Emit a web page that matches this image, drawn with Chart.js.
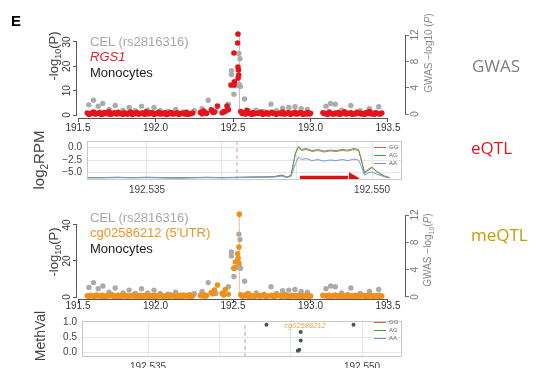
<!DOCTYPE html>
<html><head><meta charset="utf-8">
<script src="https://cdn.jsdelivr.net/npm/chart.js@4"></script>
<style>
body{margin:0;background:#fff;width:540px;height:368px;overflow:hidden;position:relative;font-family:"Liberation Sans",Arial,sans-serif}
canvas{position:absolute;left:0}
.t{position:absolute;white-space:nowrap;line-height:1}
.l{transform:translateY(-50%)}
.rot{transform:translate(-50%,-50%) rotate(-90deg)}
.big{font-family:"Open Sans",sans-serif;font-size:17px}
.lg{position:absolute;height:0;border-top:1.5px solid}
.lt{position:absolute;font-size:6px;color:#666;transform:translateY(-50%);line-height:1}
</style></head><body>
<canvas id="c1" width="540" height="140" style="top:0"></canvas>
<canvas id="c2" width="540" height="70" style="top:130px"></canvas>
<canvas id="c3" width="540" height="130" style="top:190px"></canvas>
<canvas id="c4" width="540" height="58" style="top:310px"></canvas>

<div class="t" style="left:11px;top:13px;font-weight:bold;font-size:15px">E</div>

<div class="t l" style="left:90px;top:41px;font-size:13px;color:#a8a8a8">CEL (rs2816316)</div>
<div class="t l" style="left:90px;top:56px;font-size:13px;color:#e5202a;font-style:italic">RGS1</div>
<div class="t l" style="left:90px;top:72px;font-size:13px;color:#222">Monocytes</div>
<div class="t rot" style="left:55px;top:56px;font-size:13px;color:#444">-log<sub style="font-size:9px">10</sub>(P)</div>
<div class="t rot" style="left:429px;top:53px;font-size:10px;color:#888">GWAS −log10 (<i>P</i>)</div>

<div class="t rot" style="left:40px;top:160px;font-size:15px;color:#444">log<sub style="font-size:10px">2</sub>RPM</div>

<div class="t l" style="left:90px;top:217px;font-size:13px;color:#a8a8a8">CEL (rs2816316)</div>
<div class="t l" style="left:90px;top:232px;font-size:13px;color:#f0922a">cg02586212 (5'UTR)</div>
<div class="t l" style="left:90px;top:248px;font-size:13px;color:#222">Monocytes</div>
<div class="t rot" style="left:55px;top:252px;font-size:13px;color:#444">-log<sub style="font-size:9px">10</sub>(P)</div>
<div class="t rot" style="left:429px;top:250px;font-size:10px;color:#888">GWAS −log<sub style="font-size:7px">10</sub>(<i>P</i>)</div>

<div class="t rot" style="left:40px;top:336px;font-size:14px;color:#444">MethVal</div>
<div class="t" style="left:305px;top:326px;font-size:7.5px;color:#f0a040;font-style:italic;transform:translate(-50%,-50%)">cg02586212</div>

<div class="t l big" style="left:472px;top:65px;color:#7f7f7f">GWAS</div>
<div class="t l big" style="left:471px;top:147px;color:#e8141c">eQTL</div>
<div class="t l big" style="left:471px;top:234px;color:#c89b00">meQTL</div>

<div class="lg" style="left:374px;top:147px;width:12px;border-color:#e06060"></div><div class="lt" style="left:389px;top:147px">GG</div>
<div class="lg" style="left:374px;top:155px;width:12px;border-color:#40a040"></div><div class="lt" style="left:389px;top:155px">AG</div>
<div class="lg" style="left:374px;top:163px;width:12px;border-color:#7090d0"></div><div class="lt" style="left:389px;top:163px">AA</div>

<div class="lg" style="left:374px;top:322px;width:12px;border-color:#e06060"></div><div class="lt" style="left:389px;top:322px">GG</div>
<div class="lg" style="left:374px;top:330px;width:12px;border-color:#40a040"></div><div class="lt" style="left:389px;top:330px">AG</div>
<div class="lg" style="left:374px;top:338px;width:12px;border-color:#7090d0"></div><div class="lt" style="left:389px;top:338px">AA</div>

<script>
// ---------- data ----------
const xTicksMb = [191.5, 192.0, 192.5, 193.0, 193.5];
const xTickLabels = ['191.5', '192.0', '192.5', '193.0', '193.5'];
const eqtlPTicks = [0, 10, 20, 30];
const meqtlPTicks = [0, 20, 40];
const gwasTicks = [0, 4, 8, 12];
const leadSnpMb = 192.541;
const methSnpMb = 192.5418;

const snpPos = [
191.56,191.58,191.60,191.62,191.64,191.66,191.68,191.70,191.72,191.74,
191.76,191.78,191.80,191.82,191.84,191.86,191.88,191.90,191.92,191.94,
191.96,191.98,192.00,192.02,192.04,192.06,192.08,192.10,192.12,192.14,
192.16,192.18,192.20,192.22,192.24,192.29,192.31,192.33,192.36,192.38,
192.40,192.43,192.45,192.47,192.55,192.57,192.59,192.61,192.63,192.66,
192.68,192.70,192.72,192.75,192.77,192.80,192.82,192.84,192.86,192.88,
192.90,192.92,192.94,192.96,192.98,193.00,193.08,193.10,193.12,193.14,
193.16,193.18,193.20,193.22,193.24,193.26,193.28,193.30,193.32,193.34,
193.36,193.38,193.40,193.42,193.44,193.46];
const rgs1LogP = [
0.8,0.5,1.2,0.6,1.0,0.4,0.9,1.3,0.5,0.8,
1.1,0.6,0.9,0.4,1.2,0.7,1.0,0.5,0.8,1.3,
0.6,0.9,0.5,1.1,0.7,0.9,0.4,1.0,0.6,0.9,
0.5,0.7,1.1,0.5,0.8,1.0,1.6,0.7,2.1,1.2,
3.7,0.9,1.5,2.2,1.4,0.8,1.9,0.6,1.0,0.7,
1.2,0.5,0.9,1.1,0.6,0.8,1.2,0.5,0.9,0.7,
1.1,0.6,0.9,0.5,1.0,0.7,0.9,0.6,1.2,0.5,
0.8,1.0,0.6,1.3,0.7,0.9,0.5,1.1,0.8,0.6,
1.0,1.4,0.7,0.9,0.5,0.8];
const cgLogP = [
0.7,1.0,0.5,1.1,0.6,0.9,0.4,0.8,1.2,0.6,
0.9,0.5,1.1,0.7,0.6,1.0,0.5,0.9,0.7,1.1,
0.5,0.8,1.0,0.6,0.9,0.4,0.8,1.1,0.6,0.7,
1.0,0.6,0.8,1.2,0.7,0.9,1.4,0.8,2.5,3.9,
6.7,2.0,4.2,1.5,1.2,0.7,1.6,0.9,0.6,1.0,
0.8,1.1,0.6,0.9,0.5,1.0,0.7,1.2,0.6,0.9,
0.7,1.0,0.5,0.8,1.1,0.6,0.9,0.7,1.0,0.6,
1.1,0.5,0.9,0.7,1.2,0.6,0.8,1.0,0.5,0.9,
0.7,1.1,0.6,0.8,1.0,0.6];
const snpPos2 = [
191.57,191.59,191.61,191.63,191.65,191.67,191.69,191.71,191.73,191.75,
191.77,191.79,191.81,191.83,191.85,191.87,191.89,191.91,191.93,191.95,
191.97,191.99,192.01,192.03,192.05,192.07,192.09,192.11,192.13,192.15,
192.17,192.19,192.21,192.23,192.30,192.32,192.37,192.44,192.56,192.58,
192.60,192.62,192.64,192.67,192.69,192.71,192.73,192.76,192.78,192.81,
192.83,192.85,192.87,192.89,192.91,192.93,192.95,192.97,192.99,193.09,
193.11,193.13,193.15,193.17,193.19,193.21,193.23,193.25,193.27,193.29,
193.31,193.33,193.35,193.37,193.39,193.41,193.43,193.45];
const rgs1LogP2 = [
0.3,0.9,0.4,0.7,0.2,1.0,0.5,0.3,0.8,0.4,
0.6,0.3,0.5,0.9,0.2,0.6,0.4,0.8,0.3,0.5,
0.9,0.3,0.7,0.4,0.5,0.2,0.8,0.4,0.6,0.3,
0.7,0.4,0.3,0.6,0.5,0.9,1.1,1.3,0.6,0.4,
0.7,0.3,0.5,0.8,0.3,0.6,0.4,0.7,0.3,0.5,
0.4,0.8,0.3,0.6,0.4,0.9,0.3,0.5,0.4,0.6,
0.3,0.7,0.4,0.5,0.3,0.8,0.4,0.6,0.3,0.5,
0.7,0.4,0.3,0.6,0.5,0.3,0.7,0.4];
const cgLogP2 = [
0.4,0.7,0.3,0.8,0.5,0.3,0.6,0.9,0.4,0.5,
0.3,0.7,0.4,0.6,0.8,0.3,0.5,0.4,0.7,0.3,
0.6,0.4,0.5,0.8,0.3,0.6,0.4,0.7,0.3,0.5,
0.4,0.8,0.5,0.3,0.7,0.5,1.8,1.2,0.5,0.8,
0.4,0.6,0.3,0.5,0.7,0.4,0.6,0.3,0.8,0.4,
0.6,0.3,0.5,0.7,0.4,0.5,0.3,0.6,0.4,0.8,
0.5,0.3,0.6,0.4,0.7,0.3,0.5,0.4,0.6,0.3,
0.5,0.7,0.4,0.3,0.6,0.4,0.5,0.3];
const rgs1PeakPos = [192.461,192.487,192.506,192.509,192.533,192.537,192.535,192.532,192.506,192.530,192.532];
const rgs1PeakLogP = [3.7,12.3,12.3,13.6,15.2,16.4,18.5,19.7,25.5,29.6,33.3];
const cgPeakPos = [192.505,192.510,192.515,192.533,192.538,192.530,192.538,192.541];
const cgPeakLogP = [16.0,16.2,19.4,21.5,18.9,24.0,27.8,46.0];

const celPos = [
191.57,191.60,191.63,191.66,191.70,191.74,191.79,191.83,191.87,191.91,
191.95,191.99,192.03,192.08,192.13,192.18,192.25,192.30,192.34,192.39,
192.44,192.47,192.49,192.49,192.506,192.52,192.538,192.540,192.545,192.548,192.575,192.60,192.65,192.70,
192.745,192.78,192.82,192.86,192.90,192.94,192.98,193.10,193.13,193.16,
193.20,193.26,193.32,193.38,193.44];
const celGwasLogP = [
1.4,2.1,1.2,1.6,0.7,1.3,0.6,1.0,0.5,1.2,
0.6,1.0,0.5,0.4,0.7,0.3,0.5,0.8,2.1,0.5,
0.4,1.5,6.0,6.6,3.0,4.3,9.2,4.5,8.4,4.2,2.3,0.5,0.6,0.4,
1.5,0.5,0.9,1.0,1.1,0.8,0.7,1.2,1.6,1.5,
0.6,1.3,0.5,0.8,1.1];

// eQTL read coverage by genotype
const rnaPos = [192.5310,192.5320,192.5330,192.5340,192.5350,192.5360,192.5370,192.5380,192.5390,192.5400,
192.5410,192.5420,192.5430,192.5435,192.5440,192.5443,192.5446,192.5449,192.5451,192.5453,
192.5456,192.5460,192.5464,192.5468,192.5472,192.5476,192.5480,192.5484,192.5488,192.5491,
192.5493,192.5495,192.5498,192.5500,192.5503,192.5506,192.5509,192.5512];
const ggRPM = [-6.0,-6.0,-5.95,-6.0,-5.95,-6.0,-6.05,-6.0,-5.95,-6.0,
-5.95,-5.9,-5.85,-5.8,-5.5,-5.9,-5.6,-1.2,0.0,-0.6,
-0.4,-0.8,-0.6,-0.9,-0.7,-0.8,-0.6,-0.7,-0.4,-0.6,
-2.7,-5.0,-4.2,-3.9,-4.7,-5.3,-5.8,-6.0];
const agRPM = [-6.0,-6.0,-5.95,-6.0,-5.95,-6.0,-6.05,-6.0,-5.95,-6.0,
-5.95,-5.9,-5.85,-5.8,-5.5,-5.9,-5.6,-1.0,0.2,-0.4,
-0.2,-0.6,-0.4,-0.7,-0.5,-0.6,-0.4,-0.5,-0.2,-0.4,
-2.5,-5.2,-4.4,-4.0,-4.8,-5.4,-5.8,-6.0];
const aaRPM = [-6.05,-6.05,-6.0,-6.05,-6.0,-6.05,-6.1,-6.05,-6.0,-6.05,
-6.0,-5.95,-5.9,-5.9,-5.7,-6.0,-5.8,-3.2,-1.9,-2.4,
-2.2,-2.6,-2.4,-2.7,-2.5,-2.6,-2.4,-2.6,-2.3,-2.5,
-3.8,-5.5,-5.0,-4.9,-5.3,-5.6,-5.9,-6.05];
const geneArrowPos = [192.5452, 192.5484];
const geneArrowHead = 192.5487;
const geneArrowLevel = -6.15;
const zoomXTicks = [192.535, 192.540, 192.545, 192.550];
const zoomXLabels = ['192.535', '', '', '192.550'];
const rpmTicks = [0, -2.5, -5];
const rpmLabels = ['0.0', '\u22122.5', '\u22125.0'];

// methylation
const methPos = [192.5433, 192.5494, 192.5457, 192.5457, 192.5456, 192.5455];
const methVal = [0.91, 0.91, 0.67, 0.39, 0.09, 0.05];
const methTicks = [0, 0.5, 1.0];
const methLabels = ['0.0', '0.5', '1.0'];

// ---------- helpers ----------
const pts = (xs, ys) => xs.map((x, i) => ({x, y: ys[i]}));
const fixTicks = (vals) => (s) => { s.ticks = vals.map(v => ({value: v})); };

const rAxisLine = {
  id: 'rAxisLine',
  afterDraw(chart) {
    const ctx = chart.ctx, a = chart.chartArea;
    ctx.save(); ctx.strokeStyle = '#555'; ctx.lineWidth = 1;
    for (const id of ['x', 'y', 'y2']) {
      const s = chart.scales[id]; if (!s) continue;
      const t = s.ticks;
      const p0 = s.getPixelForValue(t[0].value), p1 = s.getPixelForValue(t[t.length - 1].value);
      ctx.beginPath();
      if (id === 'x') { ctx.moveTo(p0, a.bottom + 0.5); ctx.lineTo(p1, a.bottom + 0.5); }
      else if (id === 'y') { ctx.moveTo(a.left - 0.5, p0); ctx.lineTo(a.left - 0.5, p1); }
      else { ctx.moveTo(a.right + 0.5, p0); ctx.lineTo(a.right + 0.5, p1); }
      ctx.stroke();
    }
    ctx.restore();
  }
};
const frame = {
  id: 'frame',
  afterDraw(chart) {
    const a = chart.chartArea, ctx = chart.ctx;
    ctx.save(); ctx.strokeStyle = '#c8c8c8'; ctx.lineWidth = 1;
    ctx.strokeRect(a.left + 0.5, a.top + 0.5, a.width - 1, a.height - 1);
    ctx.restore();
  }
};
Chart.defaults.font.family = '"Liberation Sans", Arial, sans-serif';
Chart.defaults.animation = false;

function manhattan(id, cfg) {
  return new Chart(document.getElementById(id), {
    type: 'scatter',
    data: {datasets: [
      {data: pts(snpPos, cfg.bgP).concat(pts(snpPos2, cfg.bgP2), pts(cfg.peakPos, cfg.peakP)), yAxisID: 'y', backgroundColor: cfg.color,
       borderWidth: 0, pointRadius: 2.8, order: 0, clip: false},
      {data: pts(celPos, celGwasLogP), yAxisID: 'y2', backgroundColor: '#ababab', borderWidth: 0, pointRadius: 2.7, order: 1, clip: false},
      {data: [{x: leadSnpMb, y: 0}, {x: leadSnpMb, y: cfg.lineTop}], yAxisID: 'y', showLine: true, borderColor: cfg.lineColor,
       borderWidth: 1, pointRadius: 0, order: 2}
    ]},
    options: {
      responsive: false, events: [],
      layout: {padding: {left: 55, right: 113, top: cfg.top, bottom: 0}},
      plugins: {legend: {display: false}, tooltip: {enabled: false}},
      scales: {
        x: {type: 'linear', min: 191.4935, max: 193.6097, afterFit: s => { s.height = cfg.xh; },
            afterBuildTicks: fixTicks(xTicksMb),
            ticks: {callback: (v, i) => xTickLabels[i], font: {size: 10}, color: '#333', padding: cfg.xpad, maxRotation: 0, autoSkip: false},
            grid: {drawOnChartArea: false, tickLength: 4, color: '#555'}, border: {display: false}},
        y: {position: 'left', min: cfg.ymin, max: cfg.ymax, afterFit: s => { s.width = 22; },
            afterBuildTicks: fixTicks(cfg.yTicks),
            ticks: {minRotation: 90, maxRotation: 90, crossAlign: 'center', padding: 0, font: {size: 10}, color: '#333'},
            grid: {drawOnChartArea: false, tickLength: 4, color: '#555'}, border: {display: false}},
        y2: {position: 'right', min: cfg.y2min, max: cfg.y2max, afterFit: s => { s.width = 22; },
            afterBuildTicks: fixTicks(gwasTicks),
            ticks: {minRotation: 90, maxRotation: 90, crossAlign: 'center', padding: 1, font: {size: 10}, color: '#777'},
            grid: {drawOnChartArea: false, tickLength: 4, color: '#777'}, border: {display: false}}
      }
    },
    plugins: [rAxisLine]
  });
}

manhattan('c1', {bgP: rgs1LogP, bgP2: rgs1LogP2, peakPos: rgs1PeakPos, peakP: rgs1PeakLogP, color: '#e5141c',
  lineTop: 33, lineColor: '#bbbbbb', top: 32, xh: 22, xpad: 0, ymin: -1.23, ymax: 34.1, yTicks: eqtlPTicks, y2min: -0.6, y2max: 12.46});
manhattan('c3', {bgP: cgLogP, bgP2: cgLogP2, peakPos: cgPeakPos, peakP: cgPeakLogP, color: '#f0901c',
  lineTop: 46, lineColor: '#f5c08a', top: 22, xh: 21, xpad: -3, ymin: -1.1, ymax: 47.2, yTicks: meqtlPTicks, y2min: -0.3, y2max: 12.44});

const zoomGrid = {color: '#e6e6e6', drawTicks: false};
new Chart(document.getElementById('c2'), {
  type: 'scatter',
  data: {datasets: [
    {data: pts(geneArrowPos, [geneArrowLevel, geneArrowLevel]), showLine: true, borderColor: '#e01010', borderWidth: 5, pointRadius: 0, order: 0},
    {data: [{x: geneArrowHead, y: geneArrowLevel}], pointStyle: 'triangle', rotation: 90, pointRadius: 7, backgroundColor: '#e01010', borderWidth: 0, order: 0},
    {data: pts(rnaPos, aaRPM), showLine: true, borderColor: '#7a98d6', borderWidth: 1, pointRadius: 0, order: 1},
    {data: pts(rnaPos, agRPM), showLine: true, borderColor: '#52a552', borderWidth: 1, pointRadius: 0, order: 2},
    {data: pts(rnaPos, ggRPM), showLine: true, borderColor: '#e07070', borderWidth: 1, pointRadius: 0, order: 3},
    {data: [{x: leadSnpMb, y: -6.48}, {x: leadSnpMb, y: 1.3}], showLine: true, borderColor: '#e39a9a', borderWidth: 1, borderDash: [4, 3], pointRadius: 0, order: 4}
  ]},
  options: {
    responsive: false, events: [],
    layout: {padding: {left: 57, right: 138, top: 8, bottom: 0}},
    plugins: {legend: {display: false}, tooltip: {enabled: false}},
    scales: {
      x: {type: 'linear', min: 192.531, max: 192.552, afterFit: s => { s.height = 20; },
          afterBuildTicks: fixTicks(zoomXTicks),
          ticks: {callback: (v, i) => zoomXLabels[i], font: {size: 10}, color: '#444', padding: 4, maxRotation: 0, autoSkip: false},
          grid: zoomGrid, border: {display: false}},
      y: {min: -6.48, max: 1.3, afterFit: s => { s.width = 30; },
          afterBuildTicks: fixTicks(rpmTicks),
          ticks: {callback: (v, i) => rpmLabels[i], font: {size: 10}, color: '#444', padding: 5},
          grid: zoomGrid, border: {display: false}}
    }
  },
  plugins: [frame]
});

new Chart(document.getElementById('c4'), {
  type: 'scatter',
  data: {datasets: [
    {data: pts(methPos, methVal), backgroundColor: '#3f5a4c', borderWidth: 0, pointRadius: 2, order: 0},
    {data: [{x: methSnpMb, y: -0.152}, {x: methSnpMb, y: 1.03}], showLine: true, borderColor: '#aaaaaa', borderWidth: 1, borderDash: [4, 3], pointRadius: 0, order: 1}
  ]},
  options: {
    responsive: false, events: [],
    layout: {padding: {left: 52, right: 138, top: 8, bottom: 0}},
    plugins: {legend: {display: false}, tooltip: {enabled: false}},
    scales: {
      x: {type: 'linear', min: 192.53037, max: 192.5528, afterFit: s => { s.height = 11; },
          afterBuildTicks: fixTicks(zoomXTicks),
          ticks: {callback: (v, i) => zoomXLabels[i], font: {size: 10}, color: '#444', padding: 4, maxRotation: 0, autoSkip: false},
          grid: zoomGrid, border: {display: false}},
      y: {min: -0.152, max: 1.03, afterFit: s => { s.width = 30; },
          afterBuildTicks: fixTicks(methTicks),
          ticks: {callback: (v, i) => methLabels[i], font: {size: 10}, color: '#444', padding: 5},
          grid: zoomGrid, border: {display: false}}
    }
  },
  plugins: [frame]
});
</script>
</body></html>
